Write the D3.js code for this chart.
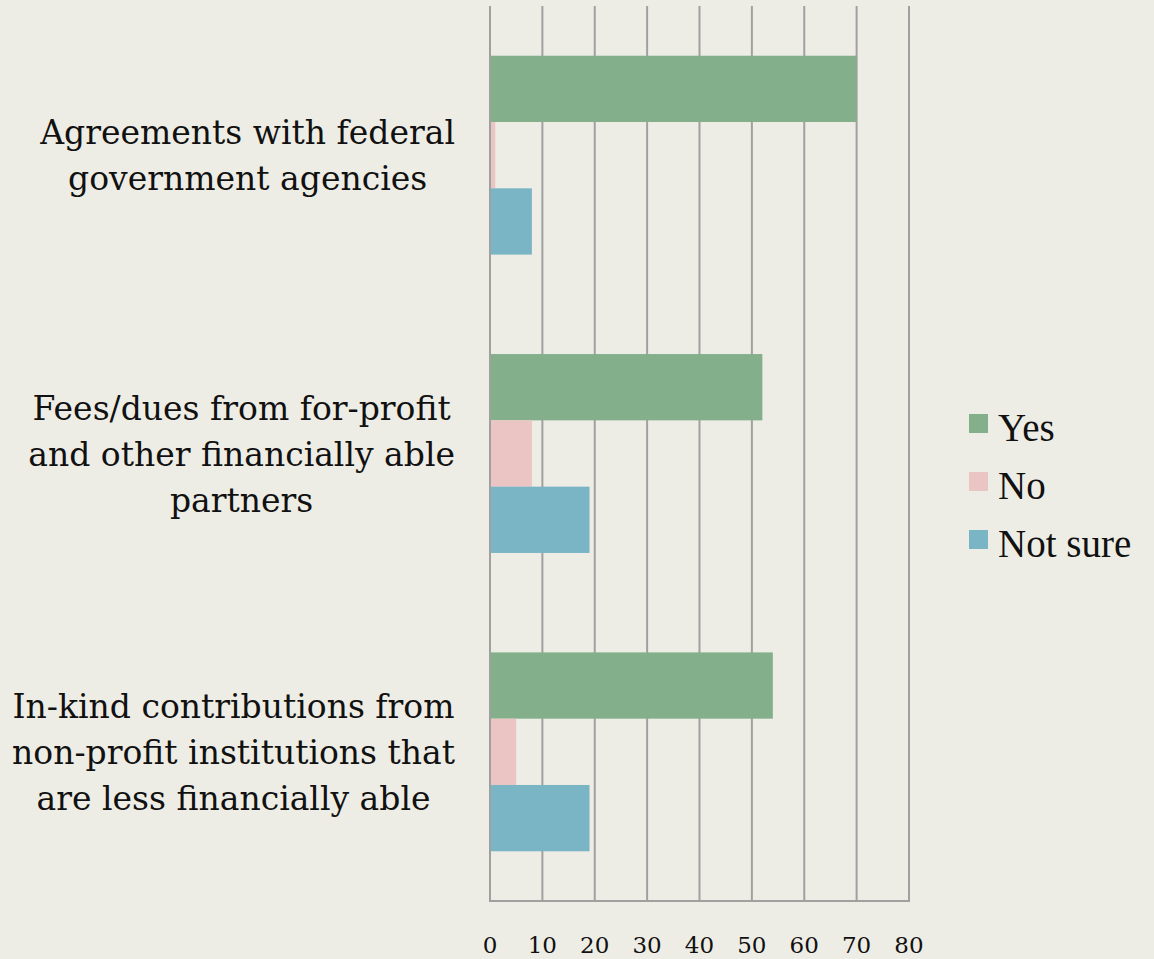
<!DOCTYPE html>
<html>
<head>
<meta charset="utf-8">
<script src="https://cdn.jsdelivr.net/npm/d3@7"></script>
<style>
  html, body { margin: 0; padding: 0; background: #EEEDE5; }
  svg { display: block; }
</style>
</head>
<body>
<svg id="chart" width="1154" height="959"></svg>
<script>
// Funding sources and responses
const categories = [
  ["Agreements with federal", "government agencies"],
  ["Fees/dues from for-profit", "and other financially able", "partners"],
  ["In-kind contributions from", "non-profit institutions that", "are less financially able"]
];
const seriesNames = ["Yes", "No", "Not sure"];
const yesValues = [70, 52, 54];
const noValues = [1, 8, 5];
const notSureValues = [8, 19, 19];
const tickValues = [0, 10, 20, 30, 40, 50, 60, 70, 80];
const colors = ["#83B08A", "#EBC4C4", "#7AB5C6"];

const series = [yesValues, noValues, notSureValues];
const svg = d3.select("#chart");

const plot = { left: 490, right: 909, top: 6, bottom: 901 };

const x = d3.scaleLinear().domain([0, 80]).range([plot.left, plot.right]);
const y = d3.scaleBand()
  .domain(d3.range(categories.length))
  .range([plot.top, plot.bottom])
  .paddingInner(1 / 3)
  .paddingOuter(1 / 6);
const ySub = d3.scaleBand()
  .domain(d3.range(seriesNames.length))
  .range([0, y.bandwidth()]);

// vertical gridlines
svg.append("g")
  .selectAll("line")
  .data(tickValues)
  .join("line")
  .attr("x1", d => x(d)).attr("x2", d => x(d))
  .attr("y1", plot.top).attr("y2", plot.bottom)
  .attr("stroke", "#A0A0A0")
  .attr("stroke-width", 2);

// bottom axis line
svg.append("line")
  .attr("x1", plot.left - 1).attr("x2", plot.right + 1)
  .attr("y1", plot.bottom).attr("y2", plot.bottom)
  .attr("stroke", "#A0A0A0")
  .attr("stroke-width", 2);

// bars
const groups = svg.append("g")
  .selectAll("g")
  .data(categories.map((c, i) => i))
  .join("g")
  .attr("transform", i => `translate(0,${y(i)})`);

groups.selectAll("rect")
  .data(i => series.map((s, k) => ({ k, v: s[i] })))
  .join("rect")
  .attr("x", x(0) + 1)
  .attr("y", d => ySub(d.k))
  .attr("width", d => x(d.v) - x(0) - 1)
  .attr("height", ySub.bandwidth())
  .attr("fill", d => colors[d.k]);

// tick labels
svg.append("g")
  .selectAll("text")
  .data(tickValues)
  .join("text")
  .attr("x", d => x(d))
  .attr("y", 953)
  .attr("text-anchor", "middle")
  .attr("font-family", "DejaVu Serif")
  .attr("font-size", 23)
  .attr("fill", "#111")
  .text(d => d);

// category labels: lines centred within a right-aligned block
const lineH = 46;
categories.forEach((lines, i) => {
  const g = svg.append("g");
  const texts = g.selectAll("text")
    .data(lines)
    .join("text")
    .attr("font-family", "DejaVu Serif")
    .attr("font-size", 33)
    .attr("fill", "#111")
    .attr("text-anchor", "middle")
    .text(d => d);
  let maxW = 0;
  texts.each(function () { maxW = Math.max(maxW, this.getComputedTextLength()); });
  const cx = 455 - maxW / 2;
  const cy = y(i) + y.bandwidth() / 2;
  texts
    .attr("x", cx)
    .attr("y", (d, j) => cy + (j - (lines.length - 1) / 2) * lineH + 12);
});

// legend
const legend = svg.append("g")
  .selectAll("g")
  .data(seriesNames)
  .join("g")
  .attr("transform", (d, k) => `translate(969,${414 + k * 58})`);
legend.append("rect")
  .attr("width", 19).attr("height", 19)
  .attr("fill", (d, k) => colors[k]);
legend.append("text")
  .attr("x", 29)
  .attr("y", 27)
  .attr("font-family", "Liberation Serif")
  .attr("font-size", 39)
  .attr("fill", "#111")
  .text(d => d);
</script>
</body>
</html>
